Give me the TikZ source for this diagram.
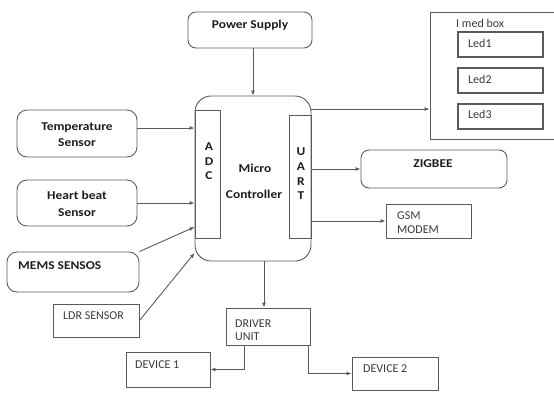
\documentclass[tikz,border=0pt]{standalone}
\usepackage{fontspec}
\setmainfont{Carlito}
\newfontfamily\bfam[FakeStretch=1.12]{Carlito}
\usetikzlibrary{arrows.meta}
\definecolor{linegray}{HTML}{5A5A5A}
\definecolor{txtgray}{HTML}{3A3A3A}
\definecolor{txtdark}{HTML}{1E1E1E}
\begin{document}
\begin{tikzpicture}[x=1pt,y=-1pt,
  box/.style={draw=linegray, line width=0.9pt, inner sep=0pt},
  rbox/.style={box, rounded corners=#1},
  ledbox/.style={draw=linegray, line width=1.2pt, inner sep=0pt, minimum width=85pt, minimum height=25pt},
  btxt/.style={font=\bfam\bfseries\fontsize{12}{14}\selectfont, text=txtdark, inner sep=0pt, align=center},
  rtxt/.style={font=\fontsize{12}{14}\selectfont, text=txtgray, inner sep=0pt, anchor=mid west},
  arr/.style={draw=linegray, line width=0.9pt, -{Latex[length=5pt,width=4pt]}}
]
\useasboundingbox (0,0) rectangle (554,392);
\clip (0,0) rectangle (554,392);

% boxes
\node[rbox=8pt, minimum width=124pt, minimum height=36pt] (ps) at (250,30) {};
\node[rbox=16pt, minimum width=116pt, minimum height=165pt] (mc) at (253,178.5) {};
\node[box, minimum width=25pt, minimum height=128pt] (adc) at (207.5,174) {};
\node[box, minimum width=22pt, minimum height=123pt] (uart) at (300,176.5) {};
\node[rbox=10pt, minimum width=120pt, minimum height=47pt] (temp) at (77,133.5) {};
\node[rbox=10pt, minimum width=120pt, minimum height=46pt] (heart) at (77,203) {};
\node[rbox=10pt, minimum width=132pt, minimum height=40pt] (mems) at (73,272) {};
\node[box, minimum width=86pt, minimum height=33pt] (ldr) at (96,320.5) {};
\node[box, minimum width=84pt, minimum height=37pt] (drv) at (268,326.5) {};
\node[box, minimum width=84pt, minimum height=35pt] (dev1) at (168,369.5) {};
\node[box, minimum width=86pt, minimum height=33pt] (dev2) at (395,373.5) {};
\node[box, minimum width=140pt, minimum height=127pt] (imed) at (500,75.5) {};
\node[ledbox] (led1) at (500.5,44.5) {};
\node[ledbox] (led2) at (500.5,80.5) {};
\node[ledbox] (led3) at (500.5,116.5) {};
\node[rbox=8pt, minimum width=146pt, minimum height=38pt] (zig) at (434,169) {};
\node[box, minimum width=85pt, minimum height=34pt] (gsm) at (428.5,221) {};

% texts
\node[btxt, anchor=mid] (tps) at (250,26) {Power Supply};
\node[btxt, anchor=mid] (tt1) at (77,128) {Temperature};
\node[btxt, anchor=mid] (tt2) at (77,144) {Sensor};
\node[btxt, anchor=mid] (th1) at (77,197) {Heart beat};
\node[btxt, anchor=mid] (th2) at (77,214) {Sensor};
\node[btxt, anchor=mid west] (tmems) at (18,267) {MEMS SENSOS};
\node[rtxt] (tldr) at (63,317) {LDR SENSOR};
\node[btxt, anchor=mid] (ta) at (209,148) {A};
\node[btxt, anchor=mid] (td) at (209,163) {D};
\node[btxt, anchor=mid] (tc) at (209,177) {C};
\node[btxt, anchor=mid] (tmi) at (255,170) {Micro};
\node[btxt, anchor=mid] (tco) at (254,196) {Controller};
\node[btxt, anchor=mid] (tu) at (301,153) {U};
\node[btxt, anchor=mid] (tua) at (301,168) {A};
\node[btxt, anchor=mid] (tr) at (301,183) {R};
\node[btxt, anchor=mid] (tut) at (301,197) {T};
\node[rtxt] (timed) at (456,25) {I med box};
\node[rtxt] (tl1) at (468,45) {Led1};
\node[rtxt] (tl2) at (468,81) {Led2};
\node[rtxt] (tl3) at (468,116) {Led3};
\node[btxt, anchor=mid] (tzig) at (433,165) {ZIGBEE};
\node[rtxt] (tgsm) at (397,217) {GSM};
\node[rtxt] (tmod) at (397,231) {MODEM};
\node[rtxt] (tdrv) at (235,325) {DRIVER};
\node[rtxt] (tunit) at (235,338) {UNIT};
\node[rtxt] (td1) at (135,366) {DEVICE 1};
\node[rtxt] (td2) at (363,370) {DEVICE 2};

% connectors
\draw[arr] (mc.north |- ps.south) -- (mc.north);
\draw[arr] ([yshift=5.5pt]temp.east) -- ([yshift=5.5pt]temp.east -| mc.west);
\draw[arr] (heart.east) -- (heart.east -| mc.west);
\draw[arr] (mems.north east) -- ([yshift=-48.5pt]mc.west);
\draw[arr] (ldr.east) -- ([yshift=-74.5pt]mc.west);
\coordinate (mcout) at ([yshift=69.5pt]mc.east);
\draw[arr] (mcout) -- (mcout -| imed.west);
\draw[arr] (uart.east |- zig.west) -- (zig.west);
\draw[arr] (uart.east |- gsm.west) -- (gsm.west);
\coordinate (drvin) at ([xshift=-4pt]drv.north);
\draw[arr] (drvin |- mc.south) -- (drvin);
\draw[arr] ([xshift=-24pt]drv.south) |- (dev1.east);
\draw[arr] ([xshift=40pt]drv.south) |- (dev2.west);
\end{tikzpicture}
\end{document}
